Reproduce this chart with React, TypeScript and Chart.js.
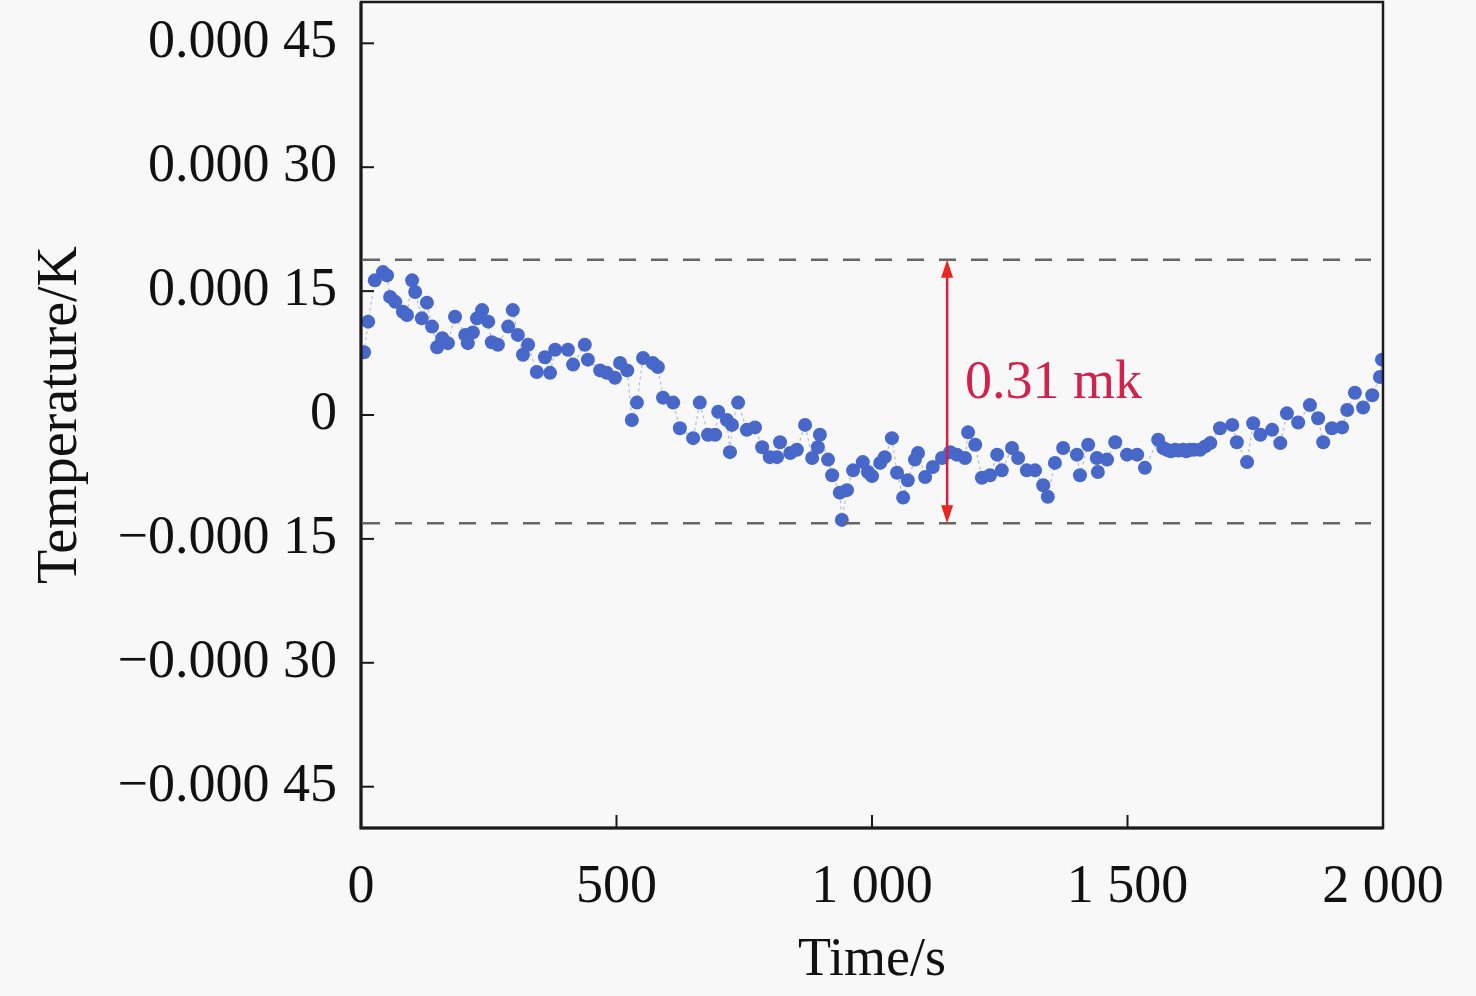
import React, { useEffect, useRef } from 'react';
import { Chart, registerables } from 'chart.js';

Chart.register(...registerables);

// time (s) and temperature deviation (µK)
const timeS = [
  6, 14, 27, 43, 51, 57, 67, 82, 90, 100,
  106, 119, 129, 139, 149, 159, 170, 184, 204, 209,
  219, 227, 237, 249, 256, 268, 288, 297, 307, 317,
  327, 344, 360, 370, 380, 405, 415, 438, 444, 468,
  481, 497, 507, 521, 530, 540, 552, 571, 581, 591,
  611, 624, 650, 663, 679, 693, 699, 716, 722, 726,
  738, 755, 771, 785, 800, 814, 820, 840, 853, 869,
  883, 894, 898, 914, 922, 937, 941, 951, 963, 982,
  992, 1000, 1016, 1025, 1039, 1049, 1061, 1070, 1084, 1090,
  1104, 1119, 1137, 1153, 1166, 1182, 1188, 1202, 1215, 1231,
  1245, 1254, 1274, 1286, 1303, 1319, 1335, 1344, 1358, 1374,
  1401, 1407, 1423, 1440, 1442, 1460, 1476, 1499, 1519, 1534,
  1560, 1570, 1577, 1585, 1593, 1600, 1609, 1615, 1622, 1630,
  1642, 1652, 1662, 1681, 1705, 1714, 1734, 1746, 1760, 1783,
  1799, 1812, 1834, 1857, 1873, 1883, 1900, 1920, 1930, 1945,
  1961, 1979, 1994, 1998,
];

const tempUK = [
  76, 113, 163, 173, 169, 143, 137, 125, 121, 163,
  149, 117, 136, 107, 82, 93, 87, 119, 97, 87,
  100, 117, 127, 113, 88, 85, 107, 127, 97, 73,
  85, 52, 70, 51, 79, 79, 61, 85, 67, 54,
  51, 45, 63, 54, -6, 15, 69, 63, 58, 21,
  15, -16, -28, 15, -24, -24, 4, -6, -45, -12,
  15, -18, -15, -39, -51, -51, -33, -46, -42, -12,
  -52, -39, -24, -54, -73, -94, -127, -91, -67, -57,
  -69, -74, -58, -51, -28, -70, -100, -79, -54, -46,
  -75, -63, -52, -45, -48, -52, -21, -36, -76, -73,
  -48, -67, -40, -52, -67, -67, -85, -99, -58, -40,
  -48, -73, -36, -52, -69, -54, -33, -48, -48, -64,
  -30, -40, -42, -44, -42, -43, -42, -44, -42, -42,
  -42, -38, -34, -16, -12, -33, -57, -10, -24, -18,
  -34, 2, -9, 12, -4, -33, -16, -15, 6, 27,
  9, 24, 46, 67,
];

const xTickValues = [0, 500, 1000, 1500, 2000];
const xTickLabels = ['0', '500', '1 000', '1 500', '2 000'];
const yTickValues = [0.00045, 0.0003, 0.00015, 0, -0.00015, -0.0003, -0.00045];
const yTickLabels = ['0.000 45', '0.000 30', '0.000 15', '0', '\u22120.000 15', '\u22120.000 30', '\u22120.000 45'];

const bandUpper = 0.000188;
const bandLower = -0.000131;
const arrowTime = 1147;
const bandLabel = '0.31 mk';

const FONT = '"Liberation Serif", "DejaVu Serif", serif';

const labelFor = (values: number[], labels: string[], v: number) => {
  const i = values.findIndex((t) => Math.abs(t - v) < 1e-9 * Math.max(1, Math.abs(t)) + 1e-12);
  return i >= 0 ? labels[i] : '';
};

const framePlugin = {
  id: 'frameAndMarks',
  afterDatasetsDraw(chart: any) {
    const { ctx, chartArea, scales } = chart;
    const { left, right, top, bottom } = chartArea;
    const x = scales.x;
    const y = scales.y;
    ctx.save();

    // dashed band lines
    ctx.strokeStyle = '#666666';
    ctx.lineWidth = 2.5;
    ctx.setLineDash([17, 15]);
    [bandUpper, bandLower].forEach((v) => {
      const py = y.getPixelForValue(v);
      ctx.beginPath();
      ctx.moveTo(left + 2, py);
      ctx.lineTo(right - 12, py);
      ctx.stroke();
    });
    ctx.setLineDash([]);

    // double arrow
    const ax = x.getPixelForValue(arrowTime);
    const y1 = y.getPixelForValue(bandUpper);
    const y2 = y.getPixelForValue(bandLower);
    const head = 18;
    const hw = 6;
    ctx.strokeStyle = '#d42040';
    ctx.lineWidth = 2.5;
    ctx.beginPath();
    ctx.moveTo(ax, y1 + head - 2);
    ctx.lineTo(ax, y2 - head + 2);
    ctx.stroke();
    ctx.fillStyle = '#e8251e';
    ctx.beginPath();
    ctx.moveTo(ax, y1);
    ctx.lineTo(ax - hw, y1 + head);
    ctx.lineTo(ax + hw, y1 + head);
    ctx.closePath();
    ctx.fill();
    ctx.beginPath();
    ctx.moveTo(ax, y2);
    ctx.lineTo(ax - hw, y2 - head);
    ctx.lineTo(ax + hw, y2 - head);
    ctx.closePath();
    ctx.fill();

    // label
    ctx.fillStyle = '#d0224c';
    ctx.font = `54px ${FONT}`;
    ctx.textAlign = 'left';
    ctx.textBaseline = 'alphabetic';
    ctx.fillText(bandLabel, ax + 18, y.getPixelForValue(0) - 17);

    // inward tick marks
    ctx.strokeStyle = '#1a1a1a';
    ctx.lineWidth = 2;
    yTickValues.forEach((v) => {
      const py = y.getPixelForValue(v);
      ctx.beginPath();
      ctx.moveTo(left, py);
      ctx.lineTo(left + 13, py);
      ctx.stroke();
    });
    xTickValues.forEach((v) => {
      const px = x.getPixelForValue(v);
      ctx.beginPath();
      ctx.moveTo(px, bottom);
      ctx.lineTo(px, bottom - 13);
      ctx.stroke();
    });

    // frame
    ctx.lineWidth = 2.5;
    ctx.strokeRect(left, top, right - left, bottom - top);
    ctx.lineWidth = 3;
    ctx.beginPath();
    ctx.moveTo(left, top);
    ctx.lineTo(left, bottom);
    ctx.lineTo(right, bottom);
    ctx.stroke();
    ctx.restore();
  },
};

export default function App() {
  const canvasRef = useRef<HTMLCanvasElement>(null);
  const chartRef = useRef<Chart | null>(null);

  useEffect(() => {
    document.body.style.margin = '0';
    document.body.style.background = '#f8f8f8';
    if (!canvasRef.current) return;
    if (chartRef.current) chartRef.current.destroy();

    const points = timeS.map((t, i) => ({ x: t, y: tempUK[i] * 1e-6 }));

    chartRef.current = new Chart(canvasRef.current, {
      type: 'scatter',
      data: {
        datasets: [
          {
            data: points,
            showLine: true,
            borderColor: 'rgba(120,140,200,0.55)',
            borderWidth: 1.2,
            borderDash: [3, 3],
            pointRadius: 7,
            pointBackgroundColor: '#4767c9',
            pointBorderColor: '#4767c9',
            pointBorderWidth: 0,
          },
        ],
      },
      options: {
        animation: false,
        responsive: true,
        maintainAspectRatio: false,
        layout: { autoPadding: false, padding: { top: 2, right: 93, left: 0, bottom: 0 } },
        plugins: { legend: { display: false }, tooltip: { enabled: false } },
        scales: {
          x: {
            type: 'linear',
            min: 0,
            max: 2000,
            afterBuildTicks: (s: any) => {
              s.ticks = xTickValues.map((v) => ({ value: v }));
            },
            afterFit: (s: any) => {
              s.height = 168;
              s.paddingLeft = 0;
              s.paddingRight = 0;
            },
            grid: { display: false },
            border: { display: false },
            ticks: {
              autoSkip: false,
              maxRotation: 0,
              padding: 19,
              color: '#111',
              font: { family: FONT, size: 54 },
              callback: (v: any) => labelFor(xTickValues, xTickLabels, Number(v)),
            },
            title: {
              display: true,
              text: 'Time/s',
              color: '#111',
              font: { family: FONT, size: 54, lineHeight: 1 },
              padding: { top: 0, bottom: 8 },
            },
          },
          y: {
            type: 'linear',
            min: -0.0005,
            max: 0.0005,
            afterBuildTicks: (s: any) => {
              s.ticks = yTickValues.map((v) => ({ value: v }));
            },
            afterFit: (s: any) => {
              s.width = 361;
              s.paddingTop = 0;
              s.paddingBottom = 0;
            },
            grid: { display: false },
            border: { display: false },
            ticks: {
              autoSkip: false,
              padding: 16,
              color: '#111',
              font: { family: FONT, size: 54 },
              callback: (v: any) => labelFor(yTickValues, yTickLabels, Number(v)),
            },
            title: {
              display: true,
              text: 'Temperature/K',
              color: '#111',
              font: { family: FONT, size: 56, lineHeight: 1 },
              padding: { top: 33, bottom: 0 },
            },
          },
        },
      },
      plugins: [framePlugin],
    });

    return () => {
      if (chartRef.current) {
        chartRef.current.destroy();
        chartRef.current = null;
      }
    };
  }, []);

  return (
    <div style={{ width: 1476, height: 996, position: 'relative' }}>
      <canvas ref={canvasRef}></canvas>
    </div>
  );
}
